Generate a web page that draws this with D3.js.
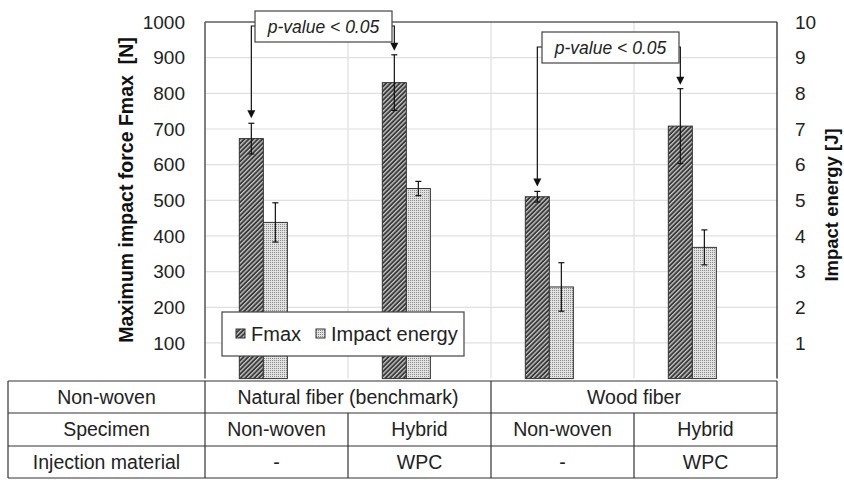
<!DOCTYPE html>
<html>
<head>
<meta charset="utf-8">
<script src="https://cdn.jsdelivr.net/npm/d3@7"></script>
<style>
  html, body { margin: 0; padding: 0; background: #fff; }
  svg { display: block; font-family: "Liberation Sans", Arial, sans-serif; }
</style>
</head>
<body>
<svg id="chart" width="844" height="480"></svg>
<script>
// Specimen groups along the x axis
const categories = ["NF non-woven", "NF hybrid", "WF non-woven", "WF hybrid"];
// Maximum impact force Fmax [N] and its standard deviation
const fmaxValues = [673, 830, 510, 708];
const fmaxErrors = [43, 78, 15, 105];
// Impact energy [J] and its standard deviation
const energyValues = [4.38, 5.33, 2.57, 3.68];
const energyErrors = [0.55, 0.2, 0.68, 0.49];
// Axis ticks
const leftTicks = [100, 200, 300, 400, 500, 600, 700, 800, 900, 1000];
const rightTicks = [1, 2, 3, 4, 5, 6, 7, 8, 9, 10];
// Table below the chart
const tableRowLabels = ["Non-woven", "Specimen", "Injection material"];
const nonWovenGroups = [
  { label: "Natural fiber (benchmark)", from: 0, to: 1 },
  { label: "Wood fiber", from: 2, to: 3 }
];
const specimenRow = ["Non-woven", "Hybrid", "Non-woven", "Hybrid"];
const injectionRow = ["-", "WPC", "-", "WPC"];
// Significance brackets between pairs of Fmax bars
const pValuePairs = [
  { a: 0, b: 1, label: "p-value < 0.05" },
  { a: 2, b: 3, label: "p-value < 0.05" }
];

const svg = d3.select("#chart");
const plot = { left: 205, right: 777, top: 22, bottom: 378.6 };

const x = d3.scaleBand().domain(categories).range([plot.left, plot.right]).padding(0);
const yL = d3.scaleLinear().domain([0, 1000]).range([plot.bottom, plot.top]);
const yR = d3.scaleLinear().domain([0, 10]).range([plot.bottom, plot.top]);
const bw = x.bandwidth();
const barW = bw * 0.168;
const fmaxX = c => x(c) + bw * 0.24;
const energyX = c => fmaxX(c) + barW;

// Fill patterns
const defs = svg.append("defs");
const hatch = defs.append("pattern")
  .attr("id", "hatch").attr("patternUnits", "userSpaceOnUse")
  .attr("width", 3.2).attr("height", 3.2)
  .attr("patternTransform", "rotate(45)");
hatch.append("rect").attr("width", 3.2).attr("height", 3.2).attr("fill", "#3a3a3a");
hatch.append("rect").attr("x", 0).attr("width", 1.3).attr("height", 3.2).attr("fill", "#c8c8c8");

const dots = defs.append("pattern")
  .attr("id", "dots").attr("patternUnits", "userSpaceOnUse")
  .attr("width", 2).attr("height", 2);
dots.append("rect").attr("width", 2).attr("height", 2).attr("fill", "#e2e2e2");
dots.append("rect").attr("width", 1).attr("height", 1).attr("fill", "#8a8a8a");

// Gridlines
const grid = svg.append("g");
grid.selectAll("line.h").data(leftTicks.filter(t => t < 1000)).join("line")
  .attr("x1", plot.left).attr("x2", plot.right)
  .attr("y1", d => yL(d)).attr("y2", d => yL(d))
  .attr("stroke", "#e0e0e0").attr("stroke-width", 1.2);
grid.selectAll("line.v").data(categories.slice(1)).join("line")
  .attr("x1", d => x(d)).attr("x2", d => x(d))
  .attr("y1", plot.top).attr("y2", plot.bottom)
  .attr("stroke", "#e0e0e0").attr("stroke-width", 1.2);

// Plot frame
svg.append("line").attr("x1", plot.left).attr("x2", plot.right)
  .attr("y1", plot.top).attr("y2", plot.top).attr("stroke", "#111").attr("stroke-width", 1.2);
svg.append("line").attr("x1", plot.left).attr("x2", plot.left)
  .attr("y1", plot.top).attr("y2", plot.bottom).attr("stroke", "#555").attr("stroke-width", 1.5);
svg.append("line").attr("x1", plot.right).attr("x2", plot.right)
  .attr("y1", plot.top).attr("y2", plot.bottom).attr("stroke", "#444").attr("stroke-width", 1.5);

// Bars
const bars = svg.append("g");
bars.selectAll("rect.f").data(categories).join("rect")
  .attr("x", d => fmaxX(d)).attr("width", barW)
  .attr("y", (d, i) => yL(fmaxValues[i]))
  .attr("height", (d, i) => plot.bottom - yL(fmaxValues[i]))
  .attr("fill", "url(#hatch)").attr("stroke", "#333").attr("stroke-width", 1);
bars.selectAll("rect.e").data(categories).join("rect")
  .attr("x", d => energyX(d)).attr("width", barW)
  .attr("y", (d, i) => yR(energyValues[i]))
  .attr("height", (d, i) => plot.bottom - yR(energyValues[i]))
  .attr("fill", "url(#dots)").attr("stroke", "#333").attr("stroke-width", 1);

// Error bars
function errorBars(cx, vals, errs, scale) {
  const g = svg.append("g").attr("stroke", "#111").attr("stroke-width", 1.2);
  categories.forEach((c, i) => {
    const xc = cx(c) + barW / 2;
    const top = scale(vals[i] + errs[i]);
    const bot = scale(vals[i] - errs[i]);
    g.append("line").attr("x1", xc).attr("x2", xc).attr("y1", top).attr("y2", bot);
    g.append("line").attr("x1", xc - 3).attr("x2", xc + 3).attr("y1", top).attr("y2", top);
    g.append("line").attr("x1", xc - 3).attr("x2", xc + 3).attr("y1", bot).attr("y2", bot);
  });
}
errorBars(fmaxX, fmaxValues, fmaxErrors, yL);
errorBars(energyX, energyValues, energyErrors, yR);

// Axes tick labels
svg.append("g").selectAll("text").data(leftTicks).join("text")
  .attr("x", 185).attr("y", d => yL(d)).attr("dy", "0.35em")
  .attr("text-anchor", "end").attr("font-size", 19).attr("fill", "#222")
  .text(d => d);
svg.append("g").selectAll("text").data(rightTicks).join("text")
  .attr("x", 795).attr("y", d => yR(d)).attr("dy", "0.35em")
  .attr("text-anchor", "start").attr("font-size", 19).attr("fill", "#222")
  .text(d => d);

// Axis titles
svg.append("text")
  .attr("transform", `translate(126,190) rotate(-90)`)
  .attr("dy", "0.35em")
  .attr("text-anchor", "middle").attr("font-size", 19.5).attr("font-weight", "bold").attr("fill", "#111")
  .attr("xml:space", "preserve")
  .text("Maximum impact force Fmax  [N]");
svg.append("text")
  .attr("transform", `translate(832,205) rotate(-90)`)
  .attr("dy", "0.35em")
  .attr("text-anchor", "middle").attr("font-size", 18.5).attr("font-weight", "bold").attr("fill", "#111")
  .text("Impact energy [J]");

// Significance annotations
const ann = svg.append("g");
const boxes = [
  { x0: 255, x1: 392, y0: 11, y1: 42 },
  { x0: 542, x1: 679, y0: 32, y1: 63 }
];
pValuePairs.forEach((p, k) => {
  const b = boxes[k];
  const xa = fmaxX(categories[p.a]) + barW / 2;
  const xb = fmaxX(categories[p.b]) + barW / 2;
  const ya = yL(fmaxValues[p.a] + fmaxErrors[p.a]) - 5;
  const yb = yL(fmaxValues[p.b] + fmaxErrors[p.b]) - 4;
  const ym = b.y0 + 15;
  ann.append("path")
    .attr("d", `M${b.x0},${ym}H${xa}V${ya - 7}`)
    .attr("fill", "none").attr("stroke", "#111").attr("stroke-width", 1.2);
  ann.append("path")
    .attr("d", `M${b.x1},${ym}H${xb}V${yb - 7}`)
    .attr("fill", "none").attr("stroke", "#111").attr("stroke-width", 1.2);
  [[xa, ya], [xb, yb]].forEach(([ax, ay]) => {
    ann.append("path")
      .attr("d", `M${ax - 4},${ay - 8}L${ax + 4},${ay - 8}L${ax},${ay}Z`)
      .attr("fill", "#111");
  });
  ann.append("rect").attr("x", b.x0).attr("y", b.y0)
    .attr("width", b.x1 - b.x0).attr("height", b.y1 - b.y0)
    .attr("fill", "#fff").attr("stroke", "#444").attr("stroke-width", 1.2);
  ann.append("text").attr("x", (b.x0 + b.x1) / 2).attr("y", (b.y0 + b.y1) / 2)
    .attr("dy", "0.35em").attr("text-anchor", "middle")
    .attr("font-size", 17.5).attr("font-style", "italic").attr("fill", "#222")
    .text(p.label);
});

// Legend
const lg = svg.append("g");
lg.append("rect").attr("x", 222).attr("y", 312).attr("width", 242).attr("height", 44)
  .attr("fill", "#fff").attr("stroke", "#444").attr("stroke-width", 1.2);
const legendItems = [
  { label: "Fmax", fill: "url(#hatch)", x: 236 },
  { label: "Impact energy", fill: "url(#dots)", x: 316 }
];
legendItems.forEach(it => {
  lg.append("rect").attr("x", it.x).attr("y", 329).attr("width", 9).attr("height", 9)
    .attr("fill", it.fill).attr("stroke", "#333").attr("stroke-width", 1);
  lg.append("text").attr("x", it.x + 15).attr("y", 334).attr("dy", "0.35em")
    .attr("font-size", 20).attr("fill", "#222").text(it.label);
});

// Table
const tbl = svg.append("g");
const rowY = [381, 413, 446, 478];
const tableLeft = 8;
const lineColor = "#333";
rowY.forEach(y => tbl.append("line").attr("x1", tableLeft).attr("x2", plot.right)
  .attr("y1", y).attr("y2", y).attr("stroke", lineColor).attr("stroke-width", 1.2));
// outer verticals and first column divider
[tableLeft, plot.left, plot.right].forEach(xv => tbl.append("line")
  .attr("x1", xv).attr("x2", xv).attr("y1", rowY[0]).attr("y2", rowY[3])
  .attr("stroke", lineColor).attr("stroke-width", 1.2));
// group divider spans all rows
tbl.append("line").attr("x1", x(categories[2])).attr("x2", x(categories[2]))
  .attr("y1", rowY[0]).attr("y2", rowY[3]).attr("stroke", lineColor).attr("stroke-width", 1.2);
// inner dividers only in lower rows
[categories[1], categories[3]].forEach(c => tbl.append("line")
  .attr("x1", x(c)).attr("x2", x(c)).attr("y1", rowY[1]).attr("y2", rowY[3])
  .attr("stroke", lineColor).attr("stroke-width", 1.2));

const cellText = (cx, r, t) => tbl.append("text").attr("x", cx)
  .attr("y", (rowY[r] + rowY[r + 1]) / 2).attr("dy", "0.35em")
  .attr("text-anchor", "middle").attr("font-size", 19.5).attr("fill", "#222").text(t);
tableRowLabels.forEach((t, r) => cellText((tableLeft + plot.left) / 2, r, t));
nonWovenGroups.forEach(g => {
  const x0 = x(categories[g.from]);
  const x1 = x(categories[g.to]) + bw;
  cellText((x0 + x1) / 2, 0, g.label);
});
categories.forEach((c, i) => {
  cellText(x(c) + bw / 2, 1, specimenRow[i]);
  cellText(x(c) + bw / 2, 2, injectionRow[i]);
});
</script>
</body>
</html>
